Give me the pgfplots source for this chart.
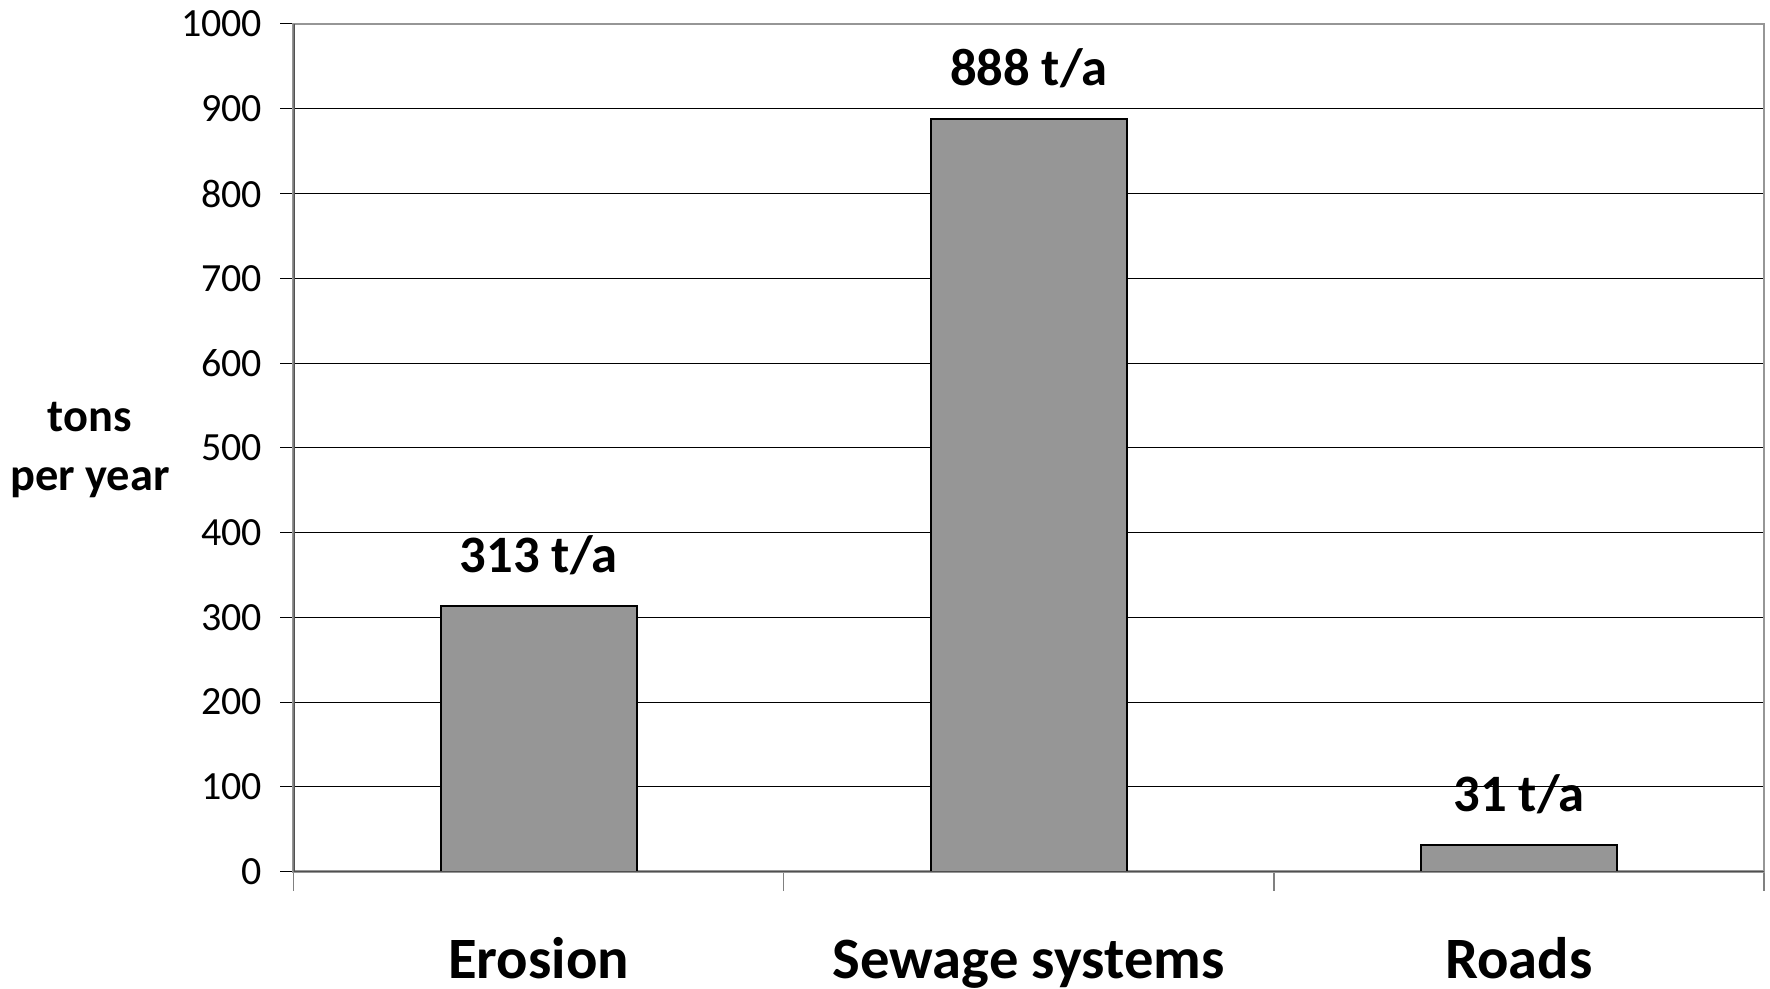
\documentclass[border=0pt]{standalone}
\usepackage{fontspec}
\setmainfont{Carlito}
\usepackage{pgfplots}
\pgfplotsset{compat=1.18}
\definecolor{barfill}{RGB}{150,150,150}
\definecolor{framegray}{RGB}{150,150,150}
\definecolor{axdark}{RGB}{80,80,80}
\begin{document}
\begin{tikzpicture}
\path[use as bounding box] (0,0) rectangle (885pt,494.5pt);
\begin{axis}[
  at={(146.75pt,58.7pt)}, anchor=south west,
  scale only axis, width=735.25pt, height=423.8pt,
  xmin=-0.5, xmax=2.5, ymin=0, ymax=1000,
  ytick={0,100,...,1000},
  xtick={0,1,2},
  xticklabels={Erosion, Sewage systems, Roads},
  minor xtick={-0.5,0.5,1.5,2.5},
  /pgf/number format/assume math mode=true,
  /pgf/number format/1000 sep={},
  ymajorgrids, grid style={black, line width=0.5pt},
  axis line style={draw=framegray, line width=1.2pt},
  tick align=outside, xtick pos=bottom, ytick pos=left,
  major tick length=6.5pt, minor tick length=9.5pt,
  every major x tick/.append style={draw=none},
  every minor x tick/.append style={draw=gray, line width=0.8pt},
  every major y tick/.append style={draw=black, line width=0.5pt},
  yticklabel style={font=\fontsize{20}{23}\selectfont, xshift=-5.6pt},
  xticklabel style={font=\fontsize{29.3}{33}\selectfont\bfseries, anchor=base, yshift=-47.2pt},
  ylabel={tons\\per year},
  ylabel style={rotate=-90, align=center, font=\fontsize{23.2}{29.4}\selectfont\bfseries, at={(rel axis cs:-0.1384,0.497)}, anchor=center},
]
\addplot[ybar, bar width=0.4, fill=barfill, draw=black, line width=1pt,
  nodes near coords={\pgfmathprintnumber{\pgfplotspointmeta}~t/a},
  nodes near coords style={font=\fontsize{26.3}{30}\selectfont\bfseries, anchor=center, yshift=25.5pt, text=black}]
  coordinates {(0,313) (1,888) (2,31)};
\draw[axdark, line width=1pt] (rel axis cs:0,1) -- (rel axis cs:0,0) -- (rel axis cs:1,0);
\end{axis}
\end{tikzpicture}
\end{document}
